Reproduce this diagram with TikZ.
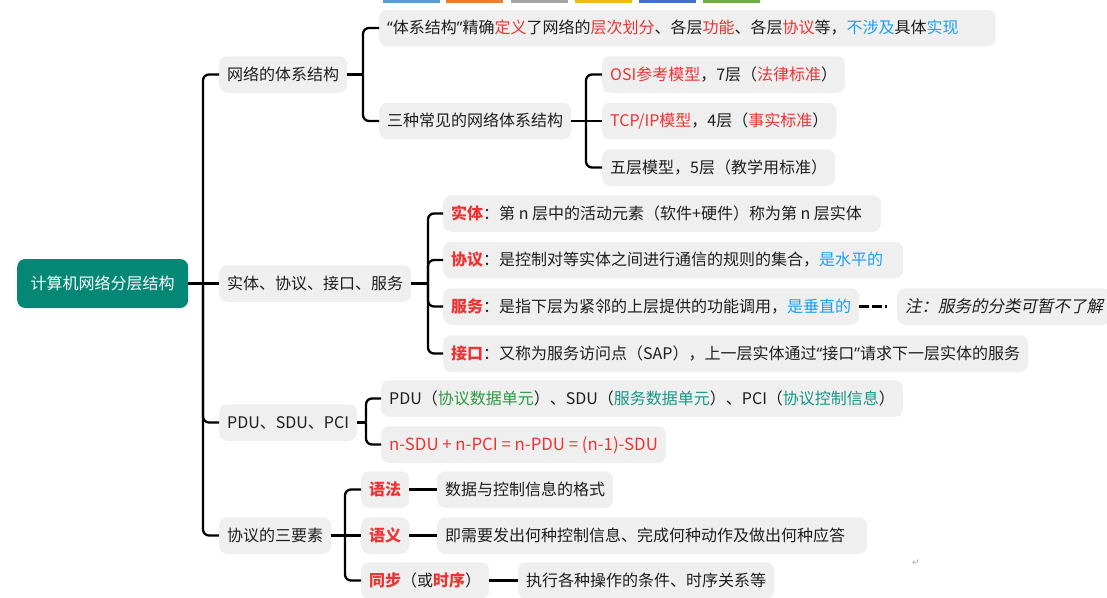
\documentclass[tikz,border=0pt]{standalone}
\usepackage{fontspec}
\setmainfont{Noto Sans CJK SC}
\newfontfamily\cjkit{Noto Sans CJK SC}[FakeSlant=0.2]
\newfontfamily\dejavu{DejaVu Sans}
\newfontfamily\latinq{Noto Sans}
\definecolor{boxg}{RGB}{239,239,239}
\definecolor{txt}{RGB}{30,30,30}
\definecolor{rd}{RGB}{234,52,52}
\definecolor{bl}{RGB}{28,160,240}
\definecolor{gn}{RGB}{45,155,65}
\definecolor{tl}{RGB}{22,152,135}
\definecolor{rootc}{RGB}{5,135,118}
\definecolor{ob}{RGB}{91,155,213}
\definecolor{oo}{RGB}{237,125,49}
\definecolor{og}{RGB}{165,165,165}
\definecolor{oy}{RGB}{240,185,20}
\definecolor{ob2}{RGB}{68,114,196}
\definecolor{ogn}{RGB}{112,173,71}
\newcommand{\R}[1]{\textcolor{rd}{#1}}
\newcommand{\RB}[1]{\textcolor{rd}{\bfseries #1}}
\newcommand{\B}[1]{\textcolor{bl}{#1}}
\newcommand{\G}[1]{\textcolor{gn}{#1}}
\newcommand{\T}[1]{\textcolor{tl}{#1}}
\newcommand{\myql}{{\latinq “}}
\newcommand{\myqr}{{\latinq ”}}
\begin{document}
\begin{tikzpicture}[x=1pt,y=-1pt,
  bx/.style={fill=boxg, rounded corners=8pt, anchor=west, inner xsep=8pt, inner ysep=0pt,
    minimum height=36.5pt, text height=13.5pt, text depth=2.5pt, text=txt,
    font=\fontsize{16pt}{19pt}\selectfont},
  rootbox/.style={fill=rootc, rounded corners=8pt, anchor=west, inner xsep=13.5pt, inner ysep=0pt,
    minimum height=49pt, text height=13.5pt, text depth=2.5pt, text=white,
    font=\fontsize{16pt}{19pt}\selectfont},
  conn/.style={line width=2.3pt, draw=black, rounded corners=6pt},
  dashconn/.style={line width=2.3pt, draw=black, dash pattern=on 10pt off 3pt on 10pt off 3pt on 2pt off 20pt},
  bar/.style={inner sep=0pt, minimum width=57pt, minimum height=3pt, anchor=north west}
]
\useasboundingbox (0,0) rectangle (1107,597);
% toolbar strip at top
\node[bar, fill=ob]  (t1) at (383,0) {};
\node[bar, fill=oo]  (t2) at (446,0) {};
\node[bar, fill=og]  (t3) at (511,0) {};
\node[bar, fill=oy]  (t4) at (575,0) {};
\node[bar, fill=ob2] (t5) at (639,0) {};
\node[bar, fill=ogn] (t6) at (703,0) {};

% root
\node[rootbox] (root) at (17,283.5) {计算机网络分层结构};

% level 1
\node[bx] (n1) at (219,74.5)  {网络的体系结构};
\node[bx] (n2) at (219,283.5) {实体、协议、接口、服务};
\node[bx] (n3) at (219,422.5) {PDU、SDU、PCI};
\node[bx] (n4) at (219,535.5) {协议的三要素};

% branch 1
\node[bx] (a1) at (379,28) {\myql 体系结构\myqr 精确\R{定义}了网络的\R{层次划分}、各层\R{功能}、各层\R{协议}等，\B{不涉及}具体\B{实现}\hspace*{29pt}};
\node[bx] (a2) at (379,121) {三种常见的网络体系结构};
\node[bx] (b1) at (602,74.5)  {\R{OSI参考模型}，7层（\R{法律标准}）};
\node[bx] (b2) at (602,121)   {\R{TCP/IP模型}，4层（\R{事实标准}）};
\node[bx] (b3) at (602,167.5) {五层模型，5层（教学用标准）};

% branch 2
\node[bx] (c1) at (443,213.5) {\RB{实体}：第 n 层中的活动元素（软件+硬件）称为第 n 层实体\hspace*{11pt}};
\node[bx] (c2) at (443,260)   {\RB{协议}：是控制对等实体之间进行通信的规则的集合，\B{是水平的}\hspace*{12pt}};
\node[bx] (c3) at (443,306.5) {\RB{服务}：是指下层为紧邻的上层提供的功能调用，\B{是垂直的}};
\node[bx] (c4) at (443,353.5) {\RB{接口}：又称为服务访问点（SAP），上一层实体通过\myql 接口\myqr 请求下一层实体的服务};
\node[bx, font=\fontsize{16.5pt}{19pt}\cjkit, minimum width=206pt, align=left] (note) at (897,306.5) {注：服务的分类可暂不了解};

% branch 3
\node[bx] (d1) at (381,398.5) {PDU（\G{协议数据单元}）、SDU（\T{服务数据单元}）、PCI（\T{协议控制信息}）};
\node[bx] (d2) at (381,444.5) {\R{\fontsize{16.8pt}{19pt}\selectfont n-SDU + n-PCI = n-PDU = (n-1)-SDU}};

% branch 4
\node[bx] (e1) at (361,489.5) {\RB{语法}};
\node[bx] (e2) at (361,535.5) {\RB{语义}};
\node[bx] (e3) at (361,580.5) {\RB{同步}（或\RB{时序}）};
\node[bx] (f1) at (437,489.5) {数据与控制信息的格式};
\node[bx] (f2) at (437,535.5) {即需要发出何种控制信息、完成何种动作及做出何种应答\hspace*{14pt}};
\node[bx] (f3) at (518,580.5) {执行各种操作的条件、时序关系等};

% return mark
\node[text=gray!70, font=\dejavu\fontsize{9pt}{10pt}\selectfont] (ret) at (916,563) {↵};

% junction points
\coordinate (j0) at (203,283.5);
\coordinate (j1) at (363,74.5);
\coordinate (j2) at (586,121);
\coordinate (j3) at (428,283.5);
\coordinate (j4) at (366,422.5);
\coordinate (j5) at (345,535.5);

% connectors
\draw[conn] (root.east) -- (n2.west);
\draw[conn] (j0) |- (n1.west);
\draw[conn] (j0) |- (n3.west);
\draw[conn] (j0) |- (n4.west);

\draw[conn] (n1.east) -- (j1);
\draw[conn] (j1) |- (a1.west);
\draw[conn] (j1) |- (a2.west);

\draw[conn] (a2.east) -- (b2.west);
\draw[conn] (j2) |- (b1.west);
\draw[conn] (j2) |- (b3.west);

\draw[conn] (n2.east) -- (j3);
\draw[conn] (j3) |- (c1.west);
\draw[conn] (j3) |- (c2.west);
\draw[conn] (j3) |- (c3.west);
\draw[conn] (j3) |- (c4.west);
\draw[dashconn] (c3.east) -- (note.west);

\draw[conn] (n3.east) -- (j4);
\draw[conn] (j4) |- (d1.west);
\draw[conn] (j4) |- (d2.west);

\draw[conn] (n4.east) -- (e2.west);
\draw[conn] (j5) |- (e1.west);
\draw[conn] (j5) |- (e3.west);

\draw[conn] (e1.east) -- (f1.west);
\draw[conn] (e2.east) -- (f2.west);
\draw[conn] (e3.east) -- (f3.west);
\end{tikzpicture}
\end{document}
